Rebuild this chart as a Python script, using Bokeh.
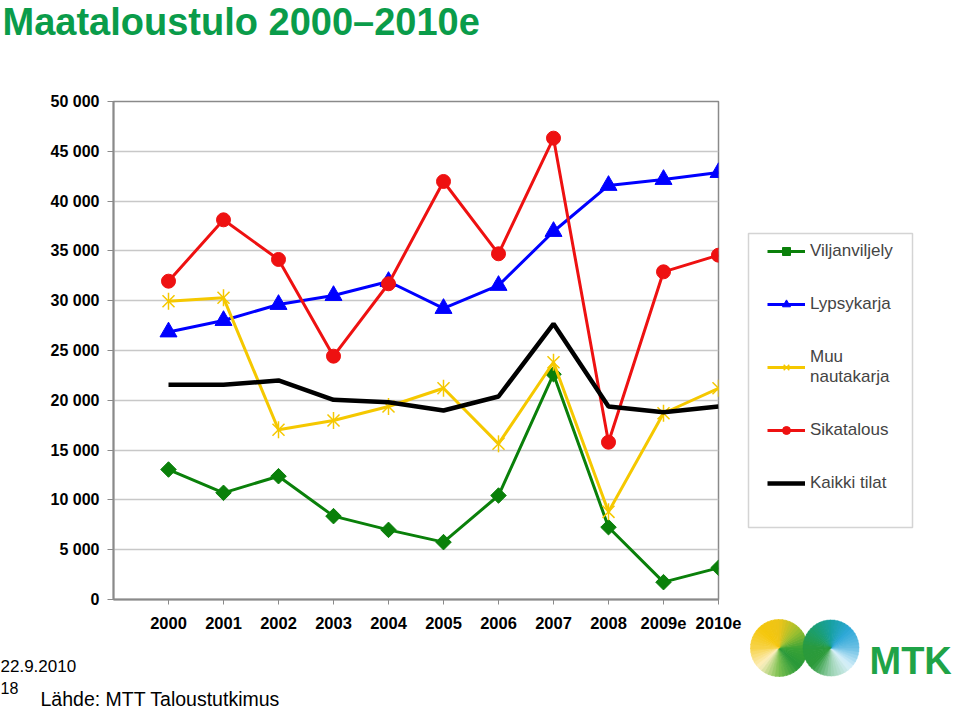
import math
from bokeh.plotting import figure
from bokeh.layouts import column
from bokeh.models import Legend, LegendItem, FixedTicker, Range1d
from bokeh.core.properties import value
from bokeh.embed import file_html
from bokeh.resources import INLINE

# ---------------- data ----------------
years = ["2000", "2001", "2002", "2003", "2004", "2005", "2006", "2007", "2008", "2009e", "2010e"]
viljanviljely = [13050, 10710, 12380, 8370, 6990, 5760, 10440, 22620, 7260, 1740, 3180]
lypsykarja = [26860, 28010, 29620, 30520, 31930, 29220, 31530, 36950, 41570, 42170, 42870]
muu_nautakarja = [29950, 30290, 17040, 17970, 19380, 21210, 15630, 23820, 8800, 18700, 21210]
sikatalous = [31960, 38120, 34140, 24430, 31700, 41970, 34710, 46320, 15790, 32900, 34570]
kaikki_tilat = [21560, 21560, 21990, 20050, 19810, 18980, 20380, 27680, 19380, 18810, 19380]
y_ticks = [0, 5000, 10000, 15000, 20000, 25000, 30000, 35000, 40000, 45000, 50000]
y_tick_labels = ["0", "5 000", "10 000", "15 000", "20 000", "25 000", "30 000",
                 "35 000", "40 000", "45 000", "50 000"]
series_names = ["Viljanviljely", "Lypsykarja", "Muu\nnautakarja", "Sikatalous", "Kaikki tilat"]
title_text = "Maataloustulo 2000\u20132010e"
date_text = "22.9.2010"
page_text = "18"
source_text = "L\u00e4hde: MTT Taloustutkimus"
logo_text = "MTK"

GREEN = "#0a800a"
BLUE = "#0000ff"
YELLOW = "#f5c800"
RED = "#ee1111"
BLACK = "#000000"
TITLE_GREEN = "#0a9c4a"
AXIS_GRAY = "#8a8a8a"
FONT = "Liberation Sans"

W, H = 960, 711
FR_L, FR_R, FR_T, FR_B = 113, 718, 101, 599

x = list(range(len(years)))

# ---------------- main chart ----------------
p = figure(frame_width=FR_R - FR_L, frame_height=FR_B - FR_T,
           min_border_left=FR_L, min_border_right=W - FR_R,
           min_border_top=FR_T, min_border_bottom=H - FR_B,
           x_range=Range1d(-1, len(years) - 1), y_range=Range1d(y_ticks[0], y_ticks[-1]),
           output_backend="svg", toolbar_location=None)
p.frame_align = False
p.background_fill_color = "white"
p.border_fill_color = "white"
p.outline_line_color = AXIS_GRAY
p.outline_line_width = 1.5

p.xgrid.visible = False
p.ygrid.grid_line_color = "#c8c8c8"
p.ygrid.grid_line_width = 1.5

p.xaxis.ticker = FixedTicker(ticks=x)
p.xaxis.major_label_overrides = {i: yr for i, yr in enumerate(years)}
p.yaxis.ticker = FixedTicker(ticks=y_ticks)
p.yaxis.major_label_overrides = dict(zip(y_ticks, y_tick_labels))

for ax in (p.xaxis[0], p.yaxis[0]):
    ax.axis_line_color = AXIS_GRAY
    ax.axis_line_width = 2
    ax.major_tick_line_color = AXIS_GRAY
    ax.major_tick_line_width = 1
    ax.major_tick_in = 0
    ax.minor_tick_line_color = None
    ax.major_label_text_font = FONT
    ax.major_label_text_font_style = "bold"
    ax.major_label_text_color = "black"
p.yaxis.major_tick_out = 6
p.yaxis.major_label_standoff = 8
p.yaxis.major_label_text_font_size = "16px"
p.xaxis.major_tick_out = 5
p.xaxis.major_label_standoff = 12
p.xaxis.major_label_text_font_size = "16.5px"

g_l = p.line(x, viljanviljely, line_color=GREEN, line_width=3)
g_m = p.scatter(x, viljanviljely, marker="square", angle=math.pi / 4, size=11,
                fill_color=GREEN, line_color=GREEN)
b_l = p.line(x, lypsykarja, line_color=BLUE, line_width=3)
b_m = p.scatter(x, lypsykarja, marker="triangle", size=17, fill_color=BLUE, line_color=BLUE)
y_l = p.line(x, muu_nautakarja, line_color=YELLOW, line_width=3)
y_m1 = p.scatter(x, muu_nautakarja, marker="x", size=17, line_color=YELLOW, line_width=1.5)
y_m2 = p.scatter(x, muu_nautakarja, marker="dash", angle=math.pi / 2, size=17,
                 line_color=YELLOW, line_width=1.5)
r_l = p.line(x, sikatalous, line_color=RED, line_width=3)
r_m = p.scatter(x, sikatalous, marker="circle", size=14, fill_color=RED, line_color=RED)
k_l = p.line(x, kaikki_tilat, line_color=BLACK, line_width=4.5)

legend = Legend(items=[
    LegendItem(label=series_names[0], renderers=[g_l, g_m]),
    LegendItem(label=series_names[1], renderers=[b_l, b_m]),
    LegendItem(label=series_names[2], renderers=[y_l, y_m1, y_m2]),
    LegendItem(label=series_names[3], renderers=[r_l, r_m]),
    LegendItem(label=series_names[4], renderers=[k_l]),
], location=(767 - FR_R, 106), padding=0, margin=0, spacing=33,
    glyph_width=38, glyph_height=20, label_height=20, label_standoff=5,
    border_line_alpha=0, background_fill_alpha=0,
    label_text_font=FONT, label_text_font_size="17px")
p.add_layout(legend, "right")

# ---------------- transparent overlay for page decorations ----------------
d = figure(frame_width=W, frame_height=H, x_range=Range1d(0, W), y_range=Range1d(H, 0),
           x_axis_type=None, y_axis_type=None, min_border=0, title=None,
           output_backend="svg", toolbar_location=None, margin=(-H, 0, 0, 0))
d.frame_align = False
d.background_fill_color = None
d.border_fill_color = None
d.outline_line_color = None
d.grid.visible = False

# legend frame
d.quad(left=[748], right=[912], top=[233], bottom=[527], fill_alpha=0,
       line_color="#d4d4d4", line_width=1.5)

def txt(t, tx, ty, size, bold=False, color="black"):
    # ty is the wanted baseline; compensate the renderer's baseline shift
    d.text(x=[tx], y=[ty - 0.37 * size], text=[t], text_font=value(FONT),
           text_font_size=value("%gpx" % size),
           text_font_style="bold" if bold else "normal", text_color=color,
           text_baseline="alphabetic", text_align="left")

txt(title_text, 2, 36, 38, bold=True, color=TITLE_GREEN)
txt(date_text, 0, 672, 17)
txt(page_text, 0, 693, 16)
txt(source_text, 40, 706, 19.5)
txt(logo_text, 869, 675, 38, bold=True, color="#1fa347")

# logo swoosh (two gradient blobs)
def lerp_col(c1, c2, t):
    a = [int(c1[i:i + 2], 16) for i in (1, 3, 5)]
    b = [int(c2[i:i + 2], 16) for i in (1, 3, 5)]
    return "#%02x%02x%02x" % tuple(int(round(a[k] + (b[k] - a[k]) * t)) for k in range(3))

def blob(cx, cy, r, anchors):
    n = 48
    xs_all, ys_all, cols = [], [], []
    for i in range(n):
        a0 = -180 + 360 * i / n
        a1 = a0 + 360 / n + 1.5
        am = a0 + 180 / n
        col = anchors[-1][1]
        for j in range(len(anchors) - 1):
            if anchors[j][0] <= am <= anchors[j + 1][0]:
                t = (am - anchors[j][0]) / (anchors[j + 1][0] - anchors[j][0])
                col = lerp_col(anchors[j][1], anchors[j + 1][1], t)
                break
        xs = [cx]
        ys = [cy]
        for k in range(5):
            a = math.radians(a0 + (a1 - a0) * k / 4)
            xs.append(cx + r * math.cos(a))
            ys.append(cy - r * math.sin(a))
        xs_all.append(xs)
        ys_all.append(ys)
        cols.append(col)
    d.patches(xs_all, ys_all, fill_color=cols, line_color=cols, line_width=0.5)

blob(778.5, 647.5, 28.5, [(-180, "#f7d34a"), (-135, "#fcefc0"), (-90, "#7cc050"),
                          (-45, "#289838"), (0, "#3aa336"), (45, "#a0c030"),
                          (90, "#edc418"), (135, "#f5c70c"), (180, "#f7d34a")])
blob(830.5, 647.5, 28.0, [(-180, "#2a9a3c"), (-135, "#2c9a3a"), (-90, "#9ad2b0"),
                          (-45, "#d8f0fa"), (0, "#6cc0e4"), (45, "#2ea8d8"),
                          (90, "#18a0a4"), (135, "#1c9e6c"), (180, "#2a9a3c")])

layout = column(p, d, spacing=0)
open("out.html", "w").write(file_html(layout, INLINE))
